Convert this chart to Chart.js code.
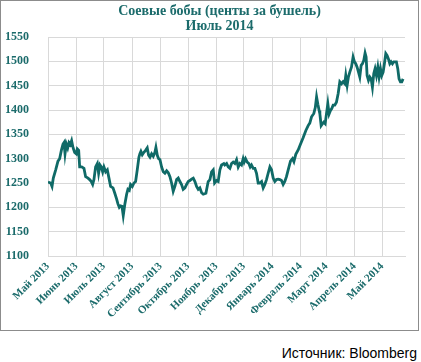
<!DOCTYPE html>
<html>
<head>
<meta charset="utf-8">
<script src="https://cdn.jsdelivr.net/npm/chart.js@4"></script>
<style>
    body { margin: 0; background: #fff; }
    #frame {
        position: absolute; left: 0; top: 0;
        width: 417px; height: 329px;
        border: 1px solid #8c8c8c;
    }
    #title {
        position: absolute; left: 0; top: 2.5px; width: 439px;
        text-align: center;
        font-family: 'Liberation Serif', 'Times New Roman', serif;
        font-weight: bold; font-size: 14px; line-height: 15px;
        color: #1b6b6b;
    }
    #source {
        position: absolute; right: 4px; top: 345px;
        font-family: 'Liberation Sans', Arial, sans-serif;
        font-size: 14px; color: #000;
    }
</style>
</head>
<body>
<div id="frame"><canvas id="soyChart" width="417" height="329"></canvas></div>
<div id="title">Соевые бобы (центы за бушель)<br>Июль 2014</div>
<div id="source">Источник: Bloomberg</div>
<script>
// Axis labels: days since 1 May 2013 at month starts
const monthDays = [0, 31, 61, 92, 123, 153, 184, 214, 245, 276, 304, 335, 365];
const monthLabels = ['Май 2013', 'Июнь 2013', 'Июль 2013', 'Август 2013', 'Сентябрь 2013', 'Октябрь 2013',
    'Ноябрь 2013', 'Декабрь 2013', 'Январь 2014', 'Февраль 2014', 'Март 2014', 'Апрель 2014', 'Май 2014'];
const yTicks = [1100, 1150, 1200, 1250, 1300, 1350, 1400, 1450, 1500, 1550];

// Price series (cents per bushel)
const days = [
    0, 2.9, 4.4, 5.8, 8.4, 10.9, 12.7, 14.6, 16.4, 17.5, 18.6, 20, 21.5, 22.9, 24.4, 25.8, 27.3, 29.1, 30.9, 32,
    33.5, 34.6, 36.8, 39.3, 41.1, 43.7, 45.5, 47.3, 48.8, 50.2, 52, 53.9, 55.3, 56.8, 58.2, 59.7, 61.1, 63, 64.8, 66.6,
    68.4, 71, 72.8, 75, 76.4, 77.9, 79.3, 80.8, 82.2, 84, 85.9, 87.3, 88.8, 90.2, 92.1, 93.9, 95.7, 97.5, 99.3,
    100.4, 101.5, 103, 104.8, 106.6, 108.4, 109.9, 111.4, 113.2, 115, 116.8, 117.9, 119.4, 120.8, 122.3, 124.1, 125.9,
    127.7, 129.6, 131.4, 133.2, 135, 136.8, 138.6, 140.5, 142.3, 144.1, 145.9, 147.7, 149.6, 151.4, 153.2, 155, 156.8,
    158.7, 160.5, 162.3, 164.1, 165.9, 167.8, 169.6, 172.5, 175, 176.9, 178.7, 180.5, 182, 184.1, 185.9, 187.8, 189.6,
    192.1, 193.2, 195.1, 196.9, 198.7, 200.5, 202.3, 204.1, 206, 207.8, 209.6, 211.4, 213.2, 214.3, 215.8, 217.6,
    219.4, 220.9, 222.3, 224.2, 226, 227.8, 229.6, 231.4, 233.3, 235.1, 236.9, 238.7, 240.5, 242.4, 244.2, 246, 247.8,
    249.6, 251.4, 253.3, 255.1, 256.9, 258.7, 260.5, 262.4, 264.9, 267.1, 268.6, 270.7, 273.3, 275.9, 278.7, 281.7,
    284.2, 286, 287.9, 290.4, 292, 293.4, 294.8, 296.2, 297, 298.4, 299.9, 301.3, 302.8, 304.2, 305.7, 307.1, 308.6,
    310, 311.5, 313.3, 315.1, 317, 318.8, 320.6, 322.4, 324.2, 325.3, 326.8, 328.2, 329.7, 331.5, 333.3, 334.8, 336.2,
    337.7, 339.2, 340.6, 342.1, 343.5, 345, 346.4, 347.5, 348.6, 350.1, 351.5, 353, 354.4, 355.9, 357.3, 358.8, 360.3,
    361.7, 363.2, 364.6, 366.1, 367.5, 369, 370.4, 371.9, 373.4, 374.8, 376.3, 377.7, 379.2, 380.6, 382.1, 383.5,
    385, 386.5, 387.9
];
const prices = [
    1252, 1250, 1243, 1260, 1277, 1295, 1300, 1317, 1330, 1333, 1310, 1330, 1322, 1333, 1329, 1337, 1323, 1313, 1310, 1320,
    1317, 1283, 1283, 1280, 1263, 1260, 1257, 1253, 1247, 1257, 1283, 1290, 1270, 1287, 1283, 1273, 1283, 1273, 1277, 1260,
    1243, 1240, 1230, 1217, 1207, 1200, 1203, 1202, 1183, 1207, 1227, 1237, 1235, 1247, 1243, 1250, 1253, 1277, 1303,
    1310, 1315, 1308, 1313, 1317, 1322, 1307, 1303, 1310, 1305, 1313, 1323, 1307, 1300, 1298, 1283, 1273,
    1270, 1275, 1271, 1263, 1250, 1233, 1243, 1257, 1260, 1253, 1247, 1237, 1240, 1247, 1253, 1255, 1258,
    1260, 1253, 1243, 1237, 1240, 1230, 1227, 1229, 1253, 1257, 1273, 1277, 1250, 1255, 1253, 1277, 1287,
    1290, 1287, 1290, 1283, 1280, 1290, 1293, 1290, 1298, 1283, 1290, 1287, 1300, 1293, 1300, 1293,
    1290, 1283, 1287, 1280, 1280, 1270, 1250, 1250, 1253, 1240, 1247, 1257, 1270, 1283, 1277, 1260, 1253,
    1257, 1258, 1257, 1255, 1247, 1253, 1263, 1277, 1295, 1300, 1294, 1309, 1318, 1330, 1343, 1358,
    1368, 1373, 1386, 1393, 1405, 1427, 1412, 1399, 1392, 1368, 1372, 1375, 1372, 1392, 1413, 1392, 1399,
    1403, 1410, 1410, 1416, 1434, 1458, 1454, 1458, 1454, 1471, 1451, 1468, 1478, 1488, 1509, 1499, 1495,
    1488, 1478, 1468, 1492, 1495, 1502, 1517, 1509, 1471, 1461, 1468, 1464, 1447, 1475, 1485, 1471, 1488,
    1468, 1485, 1471, 1478, 1495, 1516, 1512, 1505, 1495, 1499, 1495, 1499, 1499, 1499, 1485, 1464,
    1458, 1458, 1464
];

const teal = '#1b6b6b';
const lineColor = '#0f6a67';
const gridColor = '#d9d9d9';
const serif = "'Liberation Serif', 'Times New Roman', serif";

new Chart(document.getElementById('soyChart').getContext('2d'), {
    type: 'line',
    data: {
        datasets: [{
            data: days.map((d, i) => ({ x: d, y: prices[i] })),
            borderColor: lineColor,
            borderWidth: 2.8,
            pointRadius: 0,
            tension: 0,
            fill: false
        }]
    },
    options: {
        responsive: false,
        animation: false,
        layout: { padding: { top: 36, left: 0, right: 13, bottom: 0 } },
        plugins: {
            legend: { display: false },
            tooltip: { enabled: false }
        },
        scales: {
            x: {
                type: 'linear',
                min: 0,
                max: 390,
                afterBuildTicks: scale => { scale.ticks = monthDays.map(v => ({ value: v })); },
                afterFit: scale => { scale.height = 74; },
                grid: { color: gridColor, drawTicks: false },
                border: { color: gridColor },
                ticks: {
                    autoSkip: false,
                    minRotation: 45,
                    maxRotation: 45,
                    padding: 4,
                    color: teal,
                    font: { family: serif, size: 11, weight: 'bold' },
                    callback: value => monthLabels[monthDays.indexOf(value)]
                }
            },
            y: {
                min: 1100,
                max: 1550,
                afterBuildTicks: scale => { scale.ticks = yTicks.map(v => ({ value: v })); },
                afterFit: scale => { scale.width = 47; },
                grid: { color: gridColor, drawTicks: false },
                border: { color: gridColor },
                ticks: {
                    padding: 19,
                    color: teal,
                    font: { family: serif, size: 12, weight: 'bold' },
                    callback: value => String(value)
                }
            }
        }
    }
});
</script>
</body>
</html>
